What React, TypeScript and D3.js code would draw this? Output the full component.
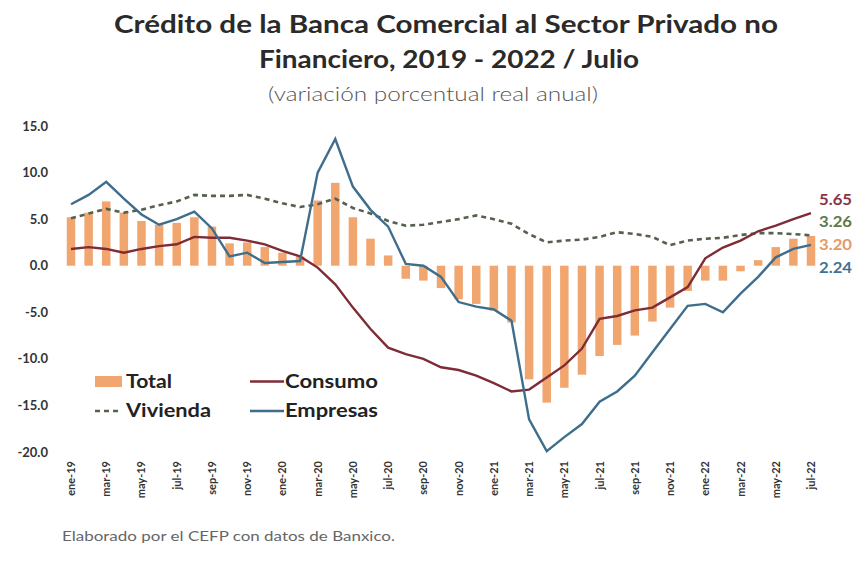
import React from "react";
import * as d3 from "d3";

const monthNames = ["ene", "feb", "mar", "abr", "may", "jun", "jul", "ago", "sep", "oct", "nov", "dic"];
const years = ["19", "20", "21", "22"];
const months: string[] = [];
years.forEach((y) => monthNames.forEach((m) => months.push(`${m}-${y}`)));
const categories = months.slice(0, 43); // ene-19 .. jul-22

const total = [5.2, 5.7, 6.9, 5.7, 4.8, 4.4, 4.6, 5.2, 4.2, 2.4, 2.5, 2.0, 1.4, 1.0, 7.0, 8.9, 5.2, 2.9, 1.1, -1.4, -1.6, -2.4, -3.6, -4.1, -4.8, -6.1, -12.2, -14.7, -13.1, -11.7, -9.7, -8.5, -7.5, -6.0, -4.5, -2.7, -1.6, -1.6, -0.6, 0.6, 2.0, 2.9, 3.2];
const consumo = [1.8, 2.0, 1.8, 1.4, 1.8, 2.1, 2.3, 3.1, 3.0, 3.0, 2.7, 2.3, 1.6, 1.0, -0.2, -2.0, -4.5, -6.8, -8.8, -9.5, -10.0, -10.9, -11.2, -11.8, -12.6, -13.5, -13.3, -12.0, -10.7, -8.9, -5.7, -5.4, -4.8, -4.5, -3.4, -2.3, 0.8, 1.95, 2.7, 3.7, 4.3, 5.0, 5.65];
const vivienda = [5.1, 5.6, 6.1, 5.7, 6.0, 6.5, 6.9, 7.6, 7.5, 7.5, 7.6, 7.2, 6.7, 6.3, 6.6, 7.2, 6.2, 5.6, 4.8, 4.3, 4.4, 4.7, 5.0, 5.4, 5.0, 4.5, 3.4, 2.5, 2.7, 2.8, 3.1, 3.6, 3.4, 3.1, 2.2, 2.7, 2.9, 3.0, 3.3, 3.5, 3.5, 3.4, 3.26];
const empresas = [6.6, 7.6, 9.0, 7.2, 5.5, 4.4, 5.0, 5.8, 4.0, 1.0, 1.4, 0.3, 0.4, 0.5, 10.0, 13.6, 8.5, 6.0, 4.2, 0.2, 0.0, -1.2, -3.9, -4.4, -4.7, -5.9, -16.5, -19.9, -18.4, -17.0, -14.6, -13.5, -11.8, -9.3, -6.8, -4.3, -4.1, -5.0, -3.0, -1.2, 0.9, 1.8, 2.24];

const yTicks = [15, 10, 5, 0, -5, -10, -15, -20];
const endLabels = ["5.65", "3.26", "3.20", "2.24"];

const C_TOTAL = "#F2A66F";
const C_CONSUMO = "#7E2C35";
const C_VIVIENDA = "#55604E";
const C_EMPRESAS = "#3F6E8C";
const FONT = "Lato, 'Open Sans', sans-serif";

export default function App() {
  const W = 857, H = 571;
  const x = d3.scalePoint<string>().domain(categories).range([71, 811]);
  const y = d3.scaleLinear().domain([-20, 15]).range([452, 126]);
  const barW = 8.5;
  const line = d3.line<number>().x((_, i) => x(categories[i])!).y((d) => y(d));

  return (
    <svg width={W} height={H} style={{ position: "absolute", left: 0, top: 0, background: "#fff" }} fontFamily={FONT}>
      <rect width={W} height={H} fill="#fff" />
      {/* Title */}
      <text x={446} y={33} textAnchor="middle" fontSize={24} fontWeight={700} fill="#2a2a2a" textLength={664} lengthAdjust="spacingAndGlyphs">
        Crédito de la Banca Comercial al Sector Privado no
      </text>
      <text x={449} y={68} textAnchor="middle" fontSize={24} fontWeight={700} fill="#2a2a2a" textLength={380} lengthAdjust="spacingAndGlyphs">
        Financiero, 2019 - 2022 / Julio
      </text>
      <text x={433} y={101} textAnchor="middle" fontSize={19} fontWeight={300} fill="#555" textLength={330} lengthAdjust="spacingAndGlyphs">
        (variación porcentual real anual)
      </text>

      {/* Y axis labels */}
      {yTicks.map((t) => (
        <text key={t} x={48} y={y(t)} dy="0.35em" textAnchor="end" fontSize={13} fontWeight={700} fill="#333">
          {t.toFixed(1)}
        </text>
      ))}

      {/* Bars */}
      {total.map((v, i) => (
        <rect key={i} x={x(categories[i])! - barW / 2} width={barW} y={Math.min(y(v), y(0))} height={Math.abs(y(v) - y(0))} fill={C_TOTAL} />
      ))}

      {/* Lines */}
      <path d={line(vivienda)!} fill="none" stroke={C_VIVIENDA} strokeWidth={2.6} strokeDasharray="5,4" />
      <path d={line(consumo)!} fill="none" stroke={C_CONSUMO} strokeWidth={2.4} />
      <path d={line(empresas)!} fill="none" stroke={C_EMPRESAS} strokeWidth={2.4} />

      {/* End labels */}
      <text x={819} y={200} dy="0.35em" fontSize={15} fontWeight={700} fill="#8A3344" textLength={33} lengthAdjust="spacingAndGlyphs">{endLabels[0]}</text>
      <text x={819} y={222} dy="0.35em" fontSize={15} fontWeight={700} fill="#5B7A4A" textLength={33} lengthAdjust="spacingAndGlyphs">{endLabels[1]}</text>
      <text x={819} y={245} dy="0.35em" fontSize={15} fontWeight={700} fill="#E39A66" textLength={33} lengthAdjust="spacingAndGlyphs">{endLabels[2]}</text>
      <text x={819} y={268} dy="0.35em" fontSize={15} fontWeight={700} fill="#3F7296" textLength={33} lengthAdjust="spacingAndGlyphs">{endLabels[3]}</text>

      {/* X labels */}
      {categories.map((c, i) =>
        i % 2 === 0 ? (
          <text key={c} transform={`translate(${x(c)! + 4},461) rotate(-90)`} textAnchor="end" fontSize={11} fontWeight={700} fill="#333">
            {c}
          </text>
        ) : null
      )}

      {/* Legend */}
      <rect x={95} y={376} width={27} height={11} fill={C_TOTAL} />
      <text x={126} y={381.5} dy="0.35em" fontSize={18} fontWeight={700} fill="#222" textLength={46} lengthAdjust="spacingAndGlyphs">Total</text>
      <line x1={95} x2={122} y1={411} y2={411} stroke={C_VIVIENDA} strokeWidth={2.6} strokeDasharray="5,4" />
      <text x={126} y={411} dy="0.35em" fontSize={18} fontWeight={700} fill="#222" textLength={85} lengthAdjust="spacingAndGlyphs">Vivienda</text>
      <line x1={250} x2={284} y1={381.5} y2={381.5} stroke={C_CONSUMO} strokeWidth={2.4} />
      <text x={285} y={381.5} dy="0.35em" fontSize={18} fontWeight={700} fill="#222" textLength={93} lengthAdjust="spacingAndGlyphs">Consumo</text>
      <line x1={250} x2={284} y1={411} y2={411} stroke={C_EMPRESAS} strokeWidth={2.4} />
      <text x={285} y={411} dy="0.35em" fontSize={18} fontWeight={700} fill="#222" textLength={93} lengthAdjust="spacingAndGlyphs">Empresas</text>

      {/* Footer */}
      <text x={62} y={541} fontSize={14} fill="#666" textLength={333} lengthAdjust="spacingAndGlyphs">Elaborado por el CEFP con datos de Banxico.</text>
    </svg>
  );
}
